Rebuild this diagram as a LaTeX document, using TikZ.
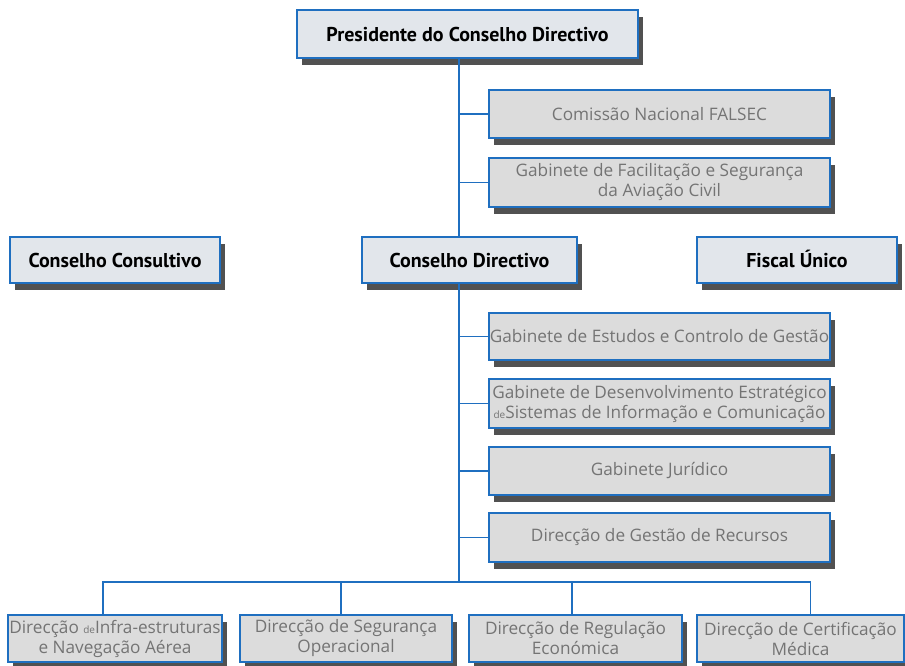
\documentclass[tikz,border=0pt]{standalone}
\usepackage{fontspec}
\setmainfont{Open Sans}
\newfontfamily\headfont{PT Sans}
\usepackage{tikz}
\usetikzlibrary{positioning,shadows,calc}

\definecolor{orgblue}{HTML}{1F6FC0}
\definecolor{boxgray}{HTML}{DCDCDC}
\definecolor{headgray}{HTML}{E2E6EB}
\definecolor{txtgray}{HTML}{747474}

\tikzset{
  unit/.style = {draw=orgblue, line width=1.8pt, fill=boxgray, align=center,
                 inner sep=0pt, text=txtgray, font=\fontsize{17.2}{20}\selectfont,
                 drop shadow={shadow xshift=5pt, shadow yshift=-7pt, fill=black!80, opacity=0.85}},
  board/.style = {unit, fill=headgray, text=black, text height=16pt, text depth=1pt,
                  font=\headfont\bfseries\fontsize{20}{22}\selectfont},
  link/.style  = {draw=orgblue, line width=1.3pt}
}

\begin{document}
\begin{tikzpicture}[x=1pt, y=-1pt]
  \useasboundingbox (0,0) rectangle (905,665);

  % governing bodies
  \node[board, minimum width=341pt, minimum height=48pt] (pres) at (467.5,34) {Presidente do Conselho Directivo};
  \node[board, minimum width=210pt, minimum height=46pt] (cc) at (115,260) {Conselho Consultivo};
  \node[board, minimum width=215pt, minimum height=46pt] (cd) at (469.5,260) {Conselho Directivo};
  \node[board, minimum width=200pt, minimum height=46pt] (fu) at (797,260) {Fiscal Único};

  % offices
  \node[unit, minimum width=341pt, minimum height=48pt] (falsec) at (659.5,114) {Comissão Nacional FALSEC};
  \node[unit, minimum width=341pt, minimum height=49pt] (gfsac) at (659.5,182.5) {Gabinete de Facilitação e Segurança\\da Aviação Civil};
  \node[unit, minimum width=341pt, minimum height=47pt] (gecg) at (659.5,336.5) {Gabinete de Estudos e Controlo de Gestão};
  \node[unit, minimum width=341pt, minimum height=49pt] (gdes) at (659.5,403.5) {Gabinete de Desenvolvimento Estratégico\\{\fontsize{10}{10}\selectfont de}Sistemas de Informação e Comunicação};
  \node[unit, minimum width=341pt, minimum height=48pt] (gj) at (659.5,471) {Gabinete Jurídico};
  \node[unit, minimum width=341pt, minimum height=49pt] (dgr) at (659.5,537.5) {Direcção de Gestão de Recursos};

  % directorates
  \node[unit, minimum width=214pt, minimum height=47pt] (dina) at (115,638.5) {Direcção {\fontsize{10}{10}\selectfont de}Infra-estruturas\\e Navegação Aérea};
  \node[unit, minimum width=212pt, minimum height=47pt] (dso) at (346,638.5) {Direcção de Segurança\\Operacional};
  \node[unit, minimum width=213pt, minimum height=47pt] (dre) at (575.5,638.5) {Direcção de Regulação\\Económica};
  \node[unit, minimum width=207pt, minimum height=47pt] (dcm) at (800.5,638.5) {Direcção de Certificação\\Médica};

  \coordinate (trunk) at (459,0);
  \coordinate (bus) at (459,582);

  % connectors
  \draw[link] (pres.south -| trunk) -- (cd.north -| trunk);
  \draw[link] (falsec.west -| trunk) -- (falsec.west);
  \draw[link] (gfsac.west -| trunk) -- (gfsac.west);
  \draw[link] (cd.south -| trunk) -- (bus);
  \draw[link] (gecg.west -| trunk) -- (gecg.west);
  \draw[link] (gdes.west -| trunk) -- (gdes.west);
  \draw[link] (gj.west -| trunk) -- (gj.west);
  \draw[link] (dgr.west -| trunk) -- (dgr.west);
  \draw[link] ($(dina.north)+(-12,0)$) |- (bus);
  \draw[link] (bus) -| ($(dcm.north)+(10,0)$);
  \draw[link] ($(dso.north)+(-5,0)$) -- ($(dso.north |- bus)+(-5,0)$);
  \draw[link] ($(dre.north)+(-3.5,0)$) -- ($(dre.north |- bus)+(-3.5,0)$);
\end{tikzpicture}
\end{document}
